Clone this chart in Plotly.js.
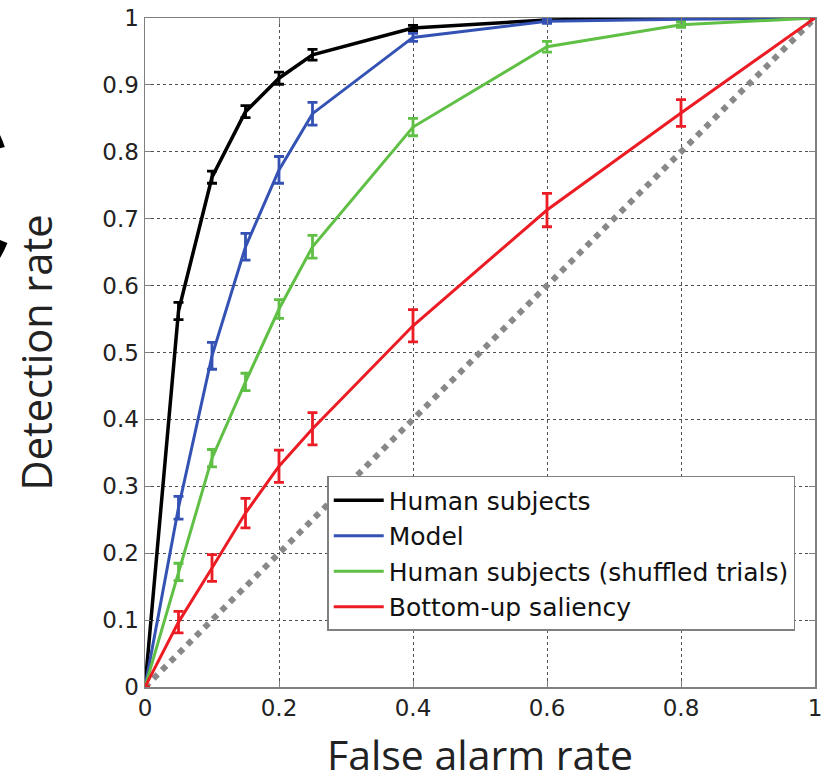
<!DOCTYPE html>
<html>
<head>
<meta charset="utf-8">
<script src="https://cdn.plot.ly/plotly-3.0.1.min.js"></script>
<style>html,body{margin:0;padding:0;background:#fff;}#chart{width:831px;height:782px;}</style>
</head>
<body>
<div id="chart"></div>
<script>
// False alarm rate thresholds (x) shared by all curves
const falseAlarm = [0, 0.05, 0.1, 0.15, 0.2, 0.25, 0.4, 0.6, 0.8, 1];

// Detection rates and error bars
const humanSubjects    = [0, 0.562, 0.762, 0.860, 0.910, 0.945, 0.985, 0.997, 1.0, 1.0];
const humanSubjectsErr = [0, 0.013, 0.009, 0.009, 0.009, 0.008, 0.004, 0.002, 0, 0];
const model            = [0, 0.268, 0.495, 0.658, 0.773, 0.857, 0.971, 0.995, 0.998, 1.0];
const modelErr         = [0, 0.017, 0.020, 0.020, 0.020, 0.017, 0.006, 0.003, 0.002, 0];
const shuffled         = [0, 0.172, 0.342, 0.456, 0.565, 0.658, 0.837, 0.957, 0.990, 1.0];
const shuffledErr      = [0, 0.013, 0.013, 0.013, 0.014, 0.017, 0.013, 0.008, 0.004, 0];
const saliency         = [0, 0.097, 0.178, 0.260, 0.330, 0.386, 0.540, 0.713, 0.858, 1.0];
const saliencyErr      = [0, 0.016, 0.020, 0.022, 0.024, 0.024, 0.024, 0.025, 0.020, 0];

// Chance diagonal
const chanceX = [0, 1];
const chanceY = [0, 1];

const seriesNames = ["Human subjects", "Model", "Human subjects (shuffled trials)", "Bottom-up saliency"];
const xTicks = [0, 0.2, 0.4, 0.6, 0.8, 1];
const yTicks = [0, 0.1, 0.2, 0.3, 0.4, 0.5, 0.6, 0.7, 0.8, 0.9, 1];

function curve(name, y, err, color, width) {
  return {
    type: "scatter", mode: "lines", name: name,
    x: falseAlarm, y: y,
    line: {color: color, width: width},
    error_y: {type: "data", array: err, visible: true, color: color, thickness: 2.8, width: 5}
  };
}

const traces = [
  {type: "scatter", mode: "lines", x: chanceX, y: chanceY, showlegend: false,
   line: {color: "#888888", width: 6, dash: "dot"}},
  curve(seriesNames[0], humanSubjects, humanSubjectsErr, "#000000", 3.5),
  curve(seriesNames[1], model, modelErr, "#3452b4", 3),
  curve(seriesNames[2], shuffled, shuffledErr, "#60bf45", 3),
  curve(seriesNames[3], saliency, saliencyErr, "#ec1c24", 3)
];

const axisCommon = {
  showline: true, mirror: "ticks", linecolor: "#808080", linewidth: 1.5,
  ticks: "inside", ticklen: 6, tickcolor: "#808080", tickwidth: 1,
  showgrid: true, gridcolor: "#505050", gridwidth: 1, griddash: "3px,3px",
  zeroline: false,
  tickfont: {family: "DejaVu Sans", size: 23, color: "#222222"}
};

const layout = {
  width: 831, height: 782,
  margin: {l: 145, r: 16, t: 18, b: 95},
  paper_bgcolor: "#ffffff", plot_bgcolor: "#ffffff",
  showlegend: true,
  xaxis: Object.assign({}, axisCommon, {
    range: [0, 1], tickvals: xTicks, ticktext: xTicks.map(String),
    title: {text: "False alarm rate", font: {family: "Open Sans", size: 41, color: "#222222"}, standoff: 23}
  }),
  yaxis: Object.assign({}, axisCommon, {
    range: [0, 1], tickvals: yTicks, ticktext: yTicks.map(String),
    title: {text: "Detection rate", font: {family: "Open Sans", size: 41.5, color: "#222222"}, standoff: 37}
  }),
  legend: {
    x: 0.272, y: 0.3154, xanchor: "left", yanchor: "top",
    bgcolor: "#ffffff", bordercolor: "#808080", borderwidth: 1.5,
    font: {family: "DejaVu Sans", size: 25, color: "#111111"},
    itemwidth: 50, tracegroupgap: 0
  },
  annotations: [{
    text: "C", xref: "paper", yref: "paper", x: -0.19, y: 0.735,
    xanchor: "right", yanchor: "middle", showarrow: false,
    font: {family: "Liberation Sans", size: 300, color: "#000000", weight: "bold"}
  }]
};

Plotly.newPlot("chart", traces, layout, {displayModeBar: false, staticPlot: true});
</script>
</body>
</html>
